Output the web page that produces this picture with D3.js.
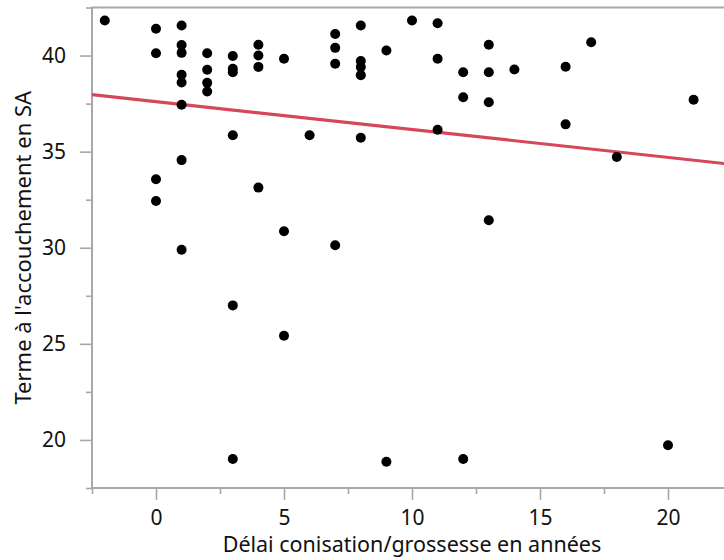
<!DOCTYPE html>
<html>
<head>
<meta charset="utf-8">
<script src="https://cdn.jsdelivr.net/npm/d3@7"></script>
<style>
  body { margin: 0; background: #fff; }
  svg { display: block; }
  text { font-family: "Noto Sans", sans-serif; fill: #111; }
</style>
</head>
<body>
<svg width="724" height="560"></svg>
<script>
// délai conisation/grossesse (années) et terme (SA)
const delais = [
  -2,
  0, 0, 0, 0,
  1, 1, 1, 1, 1, 1, 1, 1,
  2, 2, 2, 2,
  3, 3, 3, 3, 3, 3,
  4, 4, 4, 4,
  5, 5, 5,
  6,
  7, 7, 7, 7,
  8, 8, 8, 8, 8,
  9, 9,
  10,
  11, 11, 11,
  12, 12, 12,
  13, 13, 13, 13,
  14,
  16, 16,
  17,
  18,
  20,
  21
];
const termes = [
  41.82,
  41.39, 40.12, 33.56, 32.43,
  41.56, 40.55, 40.14, 39.0, 38.6, 37.44, 34.56, 29.9,
  40.12, 39.26, 38.58, 38.13,
  39.98, 39.31, 39.13, 35.85, 27.0, 19.01,
  40.56, 40.0, 39.41, 33.13,
  39.83, 30.86, 25.42,
  35.85,
  41.12, 40.4, 39.57, 30.13,
  41.56, 39.72, 39.4, 38.98, 35.72,
  40.26, 18.87,
  41.82,
  41.68, 39.83, 36.14,
  39.13, 37.83, 19.01,
  40.56, 39.13, 37.57, 31.43,
  39.27,
  39.42, 36.42,
  40.69,
  34.72,
  19.72,
  37.7
];

// droite de régression
const fitIntercept = 37.6;
const fitSlope = -0.145;

const xMajorTicks = [0, 5, 10, 15, 20];
const xMinorTicks = [-2.5, 2.5, 7.5, 12.5, 17.5, 22.5];
const yMajorTicks = [20, 25, 30, 35, 40];
const yMinorTicks = [17.5, 22.5, 27.5, 32.5, 37.5, 42.5];

const xTitle = "Délai conisation/grossesse en années";
const yTitle = "Terme à l'accouchement en SA";

const svg = d3.select("svg");
const m = { left: 92, right: 732, top: 7.5, bottom: 488 };
const axisColor = "#a8a8a8";

const x = d3.scaleLinear().domain([-2.5, 22.5]).range([m.left, m.right]);
const y = d3.scaleLinear().domain([17.5, 42.5]).range([m.bottom, m.top]);

svg.append("clipPath").attr("id", "plot")
  .append("rect")
  .attr("x", m.left).attr("y", m.top)
  .attr("width", m.right - m.left).attr("height", m.bottom - m.top);

// axes (ticks majeurs + mineurs)
function styleAxis(g) {
  g.select(".domain").remove();
  g.selectAll(".tick line").attr("stroke", axisColor).attr("stroke-width", 1.6);
  g.selectAll(".tick text").attr("font-size", 21).attr("fill", "#111");
}

svg.append("g")
  .attr("transform", `translate(0,${m.bottom})`)
  .call(d3.axisBottom(x).tickValues(xMinorTicks).tickSize(6).tickFormat(""))
  .call(styleAxis);
svg.append("g")
  .attr("transform", `translate(0,${m.bottom})`)
  .call(d3.axisBottom(x).tickValues(xMajorTicks).tickSize(12).tickPadding(10))
  .call(styleAxis);

svg.append("g")
  .attr("transform", `translate(${m.left},0)`)
  .call(d3.axisLeft(y).tickValues(yMinorTicks).tickSize(6).tickFormat(""))
  .call(styleAxis);
svg.append("g")
  .attr("transform", `translate(${m.left},0)`)
  .call(d3.axisLeft(y).tickValues(yMajorTicks).tickSize(12).tickPadding(14))
  .call(styleAxis);

// cadre
svg.append("rect")
  .attr("x", m.left).attr("y", m.top)
  .attr("width", m.right - m.left).attr("height", m.bottom - m.top)
  .attr("fill", "none")
  .attr("stroke", axisColor)
  .attr("stroke-width", 2);

const plot = svg.append("g").attr("clip-path", "url(#plot)");

plot.append("line")
  .attr("x1", x(-2.5)).attr("y1", y(fitIntercept + fitSlope * -2.5))
  .attr("x2", x(22.5)).attr("y2", y(fitIntercept + fitSlope * 22.5))
  .attr("stroke", "#d6475a")
  .attr("stroke-width", 3.2);

plot.selectAll("circle")
  .data(delais)
  .enter()
  .append("circle")
  .attr("cx", (d) => x(d))
  .attr("cy", (d, i) => y(termes[i]))
  .attr("r", 5)
  .attr("fill", "#000");

// titres des axes
svg.append("text")
  .text(xTitle)
  .attr("x", (m.left + m.right) / 2)
  .attr("y", 552)
  .attr("font-size", 21.5)
  .attr("text-anchor", "middle");

svg.append("text")
  .text(yTitle)
  .attr("transform", `translate(31,${(m.top + m.bottom) / 2}) rotate(-90)`)
  .attr("font-size", 22)
  .attr("text-anchor", "middle");
</script>
</body>
</html>
